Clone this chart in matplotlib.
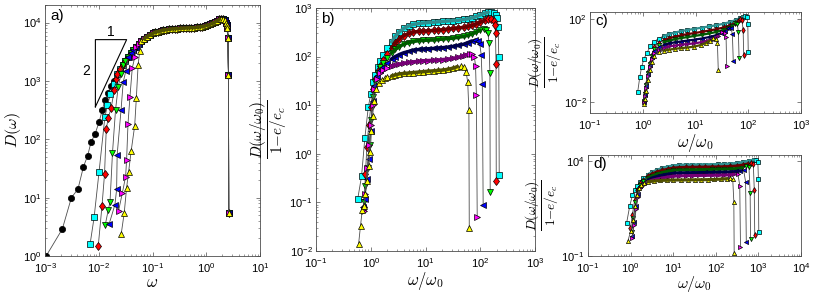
import numpy as np
import matplotlib
matplotlib.use('Agg')
import matplotlib.pyplot as plt
from matplotlib.ticker import LogLocator, NullFormatter

plt.rcParams['font.family'] = 'Liberation Sans'
plt.rcParams['mathtext.fontset'] = 'cm'

# === data : panel a, D(omega) ===
a_black_x = [0.00105, 0.0021, 0.0031, 0.0041, 0.0052, 0.0062, 0.0072, 0.0085, 0.0101, 0.0116, 0.013, 0.0147, 0.0167, 0.019]
a_black_y = [1.0, 2.9, 10, 14, 34, 52, 90, 122, 195, 315, 470, 620, 810, 1000]
a_cyan_x = [0.0069, 0.0082, 0.0101, 0.013, 0.0145, 0.0165, 0.019]
a_cyan_y = [1.6, 4.6, 27, 240, 380, 600, 900]
a_red_x = [0.0098, 0.0115, 0.0128, 0.0138, 0.015, 0.017, 0.0195, 0.021]
a_red_y = [1.5, 7.3, 25, 150, 230, 346, 700, 1100]
a_green_x = [0.0132, 0.0150, 0.0162, 0.018, 0.0205, 0.023, 0.026]
a_green_y = [3.4, 6.1, 8.4, 58, 315, 800, 1300]
a_blue_x = [0.0157, 0.0200, 0.0215, 0.022, 0.026, 0.0285, 0.032]
a_blue_y = [3.6, 7.6, 13.8, 54, 320, 950, 1500]
a_magenta_x = [0.0234, 0.0275, 0.0316, 0.033, 0.035, 0.038, 0.042, 0.047]
a_magenta_y = [6.0, 12, 23, 45, 183, 525, 1650, 2600]
a_yellow_x = [0.0262, 0.0298, 0.033, 0.036, 0.04, 0.0466, 0.05, 0.054, 0.058]
a_yellow_y = [2.4, 5.5, 14.9, 28, 62, 170, 500, 1900, 3300]
# common curve that every series of panel a joins
a_env_x = [0.022, 0.025, 0.028, 0.031, 0.035, 0.039, 0.044, 0.049, 0.055, 0.062, 0.07, 0.078,
           0.088, 0.1, 0.112, 0.126, 0.142, 0.16, 0.18, 0.2, 0.23, 0.26, 0.29, 0.33, 0.37, 0.42,
           0.47, 0.53, 0.6, 0.67, 0.75, 0.84, 0.94, 1.05, 1.17, 1.3, 1.45, 1.6, 1.75, 1.9, 2.05,
           2.2, 2.32, 2.42, 2.48, 2.53, 2.59, 2.62]
a_env_y = [1300, 1600, 1900, 2200, 2600, 3000, 3400, 3800, 4300, 4800, 5300, 5700, 6100, 6500,
           6800, 7000, 7200, 7400, 7550, 7650, 7750, 7850, 7900, 7950, 8000, 8050, 8100, 8150,
           8200, 8300, 8400, 8550, 8750, 9000, 9300, 9700, 10200, 10800, 11300, 11700, 11600,
           11000, 10000, 9000, 8200, 5400, 1270, 5.5]

# === data : panel b ===
b_cyan_x = [0.58, 0.68, 0.78, 0.9, 1.0, 1.1, 1.2, 1.35, 1.5, 1.7, 2.0, 2.4, 2.8, 3.3, 4, 5, 6, 7.5, 9, 11,
            14, 17, 21, 26, 32, 40, 50, 60, 72, 85, 100, 120, 140, 160, 180, 195, 205, 212, 218, 222]
b_cyan_y = [0.12, 0.35, 2.1, 9, 17, 30, 42, 60, 80, 110, 150, 200, 260, 320, 380, 430, 460, 480, 490, 500,
            510, 520, 530, 540, 550, 560, 580, 600, 630, 670, 720, 780, 820, 830, 800, 720, 620, 400, 100, 0.37]
b_red_x = [0.75, 0.8, 0.85, 0.92, 1.0, 1.1, 1.2, 1.35, 1.5, 1.7, 2.0, 2.4, 2.8, 3.3, 4, 5, 6, 7.5, 9, 11,
           14, 17, 21, 26, 32, 40, 50, 60, 72, 85, 100, 120, 140, 160, 175, 185, 190, 194, 196]
b_red_y = [0.08, 0.38, 1.4, 4, 9, 22, 35, 50, 65, 85, 115, 150, 190, 230, 270, 300, 320, 330, 335, 340,
           345, 350, 360, 370, 380, 390, 400, 420, 440, 470, 510, 560, 590, 590, 540, 450, 300, 70, 0.27]
b_green_x = [0.75, 0.8, 0.88, 0.95, 1.02, 1.1, 1.2, 1.35, 1.5, 1.7, 2.0, 2.4, 2.8, 3.3, 4, 5, 6, 7.5, 9, 11,
             14, 17, 21, 26, 32, 40, 50, 60, 72, 85, 100, 115, 128, 138, 145, 150, 152]
b_green_y = [0.1, 0.22, 0.5, 1.5, 5, 15, 30, 45, 60, 75, 95, 120, 140, 160, 180, 195, 205, 212, 215, 218,
             220, 225, 230, 235, 240, 250, 260, 275, 295, 320, 350, 365, 350, 300, 190, 45, 0.16]
b_blue_x = [0.72, 0.78, 0.85, 0.92, 1.0, 1.08, 1.15, 1.3, 1.5, 1.7, 2.0, 2.4, 2.8, 3.3, 4, 5, 6, 7.5, 9, 11,
            14, 17, 21, 26, 32, 40, 50, 60, 70, 80, 90, 98, 104, 109, 113]
b_blue_y = [0.08, 0.12, 0.3, 0.8, 3, 12, 25, 40, 52, 62, 75, 90, 100, 110, 120, 128, 135, 140, 143, 145,
            147, 150, 153, 157, 162, 170, 180, 195, 210, 215, 205, 180, 110, 27, 0.09]
b_magenta_x = [0.75, 0.8, 0.86, 0.93, 1.0, 1.08, 1.15, 1.3, 1.5, 1.7, 2.0, 2.4, 2.8, 3.3, 4, 5, 6, 7.5, 9, 11,
               14, 17, 21, 26, 32, 40, 48, 56, 64, 72, 78, 82, 85, 88]
b_magenta_y = [0.065, 0.15, 0.5, 1.5, 4, 10, 22, 35, 45, 52, 58, 63, 67, 70, 73, 76, 78, 80, 82, 83,
               84, 85, 87, 89, 92, 97, 103, 110, 115, 112, 100, 65, 16, 0.05]
b_yellow_x = [0.6, 0.65, 0.7, 0.75, 0.8, 0.85, 0.92, 0.98, 1.03, 1.08, 1.15, 1.25, 1.4, 1.6, 1.8, 2.0, 2.4, 2.8,
              3.3, 4, 5, 6, 7.5, 9, 11, 14, 17, 21, 26, 32, 38, 44, 50, 55, 59, 62, 63]
b_yellow_y = [0.014, 0.033, 0.07, 0.085, 0.15, 0.28, 0.55, 1.1, 3, 6, 12, 22, 29, 33, 36, 38, 40, 42,
              44, 45, 46, 47, 48, 49, 50, 51, 52, 53, 55, 58, 62, 64, 60, 49, 30, 8, 0.03]

# === data : panel c ===
c_cyan_x = [0.8, 0.88, 0.95, 1.05, 1.2, 1.4, 1.6, 2.0, 2.5, 3.2, 4, 5.2, 7, 9.5, 13, 18, 25, 34, 45, 58, 70, 80, 88, 94, 98, 100]
c_cyan_y = [0.03, 0.17, 0.5, 1.2, 2.5, 5, 8, 12, 16, 20, 23, 27, 31, 35, 40, 46, 53, 62, 75, 95, 118, 135, 145, 130, 61, 2.7]
c_red_x = [1.05, 1.1, 1.15, 1.25, 1.35, 1.5, 1.65, 2.0, 2.5, 3.2, 4, 5.2, 7, 9.5, 13, 18, 25, 34, 45, 55, 64, 71, 76, 80, 82]
c_red_y = [0.012, 0.03, 0.08, 0.3, 0.8, 2, 4.5, 7.5, 10, 12.5, 14.5, 17, 19.5, 22, 25, 29, 34, 41, 52, 65, 85, 100, 90, 32, 1.9]
c_green_x = [1.05, 1.1, 1.15, 1.25, 1.35, 1.5, 1.65, 2.0, 2.5, 3.2, 4, 5.2, 7, 9.5, 13, 18, 25, 33, 42, 50, 57, 62, 65, 67]
c_green_y = [0.011, 0.025, 0.07, 0.25, 0.7, 1.8, 3.8, 6, 7.8, 9.5, 11, 12.5, 14, 16, 18, 21, 25, 30, 38, 50, 65, 60, 24, 1.3]
c_blue_x = [1.05, 1.1, 1.15, 1.25, 1.35, 1.5, 1.65, 2.0, 2.5, 3.2, 4, 5.2, 7, 9.5, 13, 18, 24, 30, 36, 42, 47, 50, 52]
c_blue_y = [0.01, 0.022, 0.06, 0.22, 0.6, 1.5, 3, 4.8, 6, 7, 7.8, 8.6, 9.5, 10.5, 12, 14, 17, 21, 27, 38, 38, 20, 0.97]
c_magenta_x = [1.05, 1.1, 1.15, 1.25, 1.35, 1.5, 1.65, 2.0, 2.5, 3.2, 4, 5.2, 7, 9.5, 13, 17, 22, 27, 32, 36, 38, 39]
c_magenta_y = [0.01, 0.02, 0.05, 0.18, 0.5, 1.2, 2.3, 3.5, 4.3, 5, 5.5, 6, 6.5, 7, 8, 9.5, 12, 16, 24, 22, 14, 0.56]
c_yellow_x = [1.05, 1.1, 1.15, 1.25, 1.35, 1.5, 1.65, 2.0, 2.5, 3.2, 4, 5.2, 7, 9.5, 12.5, 15.5, 18.5, 21.5, 24, 26, 27]
c_yellow_y = [0.008, 0.015, 0.035, 0.12, 0.35, 0.9, 1.7, 2.6, 3.1, 3.5, 3.8, 4.1, 4.4, 4.9, 5.8, 7.2, 9.5, 12.5, 11, 7.7, 0.38]

# === data : panel d ===
d_cyan_x = [0.81, 0.95, 1.1, 1.25, 1.45, 1.7, 2.0, 2.5, 3.2, 4.2, 5.5, 7.5, 10, 14, 20, 28, 40, 56, 80, 110,
            155, 220, 310, 430, 600, 780, 900, 970, 1000, 1020]
d_cyan_y = [5.7, 40, 150, 300, 500, 800, 1200, 1800, 2500, 3200, 4000, 4800, 5400, 5800, 6000, 6100, 6150, 6200,
            6250, 6350, 6500, 6800, 7300, 8200, 9500, 11000, 11500, 9000, 1080, 1.9]
d_red_x = [0.99, 1.1, 1.25, 1.45, 1.7, 2.0, 2.5, 3.2, 4.2, 5.5, 7.5, 10, 14, 20, 28, 40, 56, 80, 110, 155,
           220, 310, 430, 560, 680, 760, 800, 820]
d_red_y = [2.9, 15, 90, 300, 650, 1000, 1500, 2000, 2600, 3100, 3600, 4100, 4400, 4500, 4550, 4600, 4650, 4700,
           4750, 4850, 5000, 5300, 5900, 6800, 7700, 6500, 300, 1.27]
d_green_x = [1.05, 1.15, 1.3, 1.5, 1.7, 2.0, 2.5, 3.2, 4.2, 5.5, 7.5, 10, 14, 20, 28, 40, 56, 80, 110, 155,
             220, 310, 420, 520, 600, 640, 655]
d_green_y = [1.8, 10, 70, 250, 550, 850, 1200, 1600, 2000, 2400, 2800, 3100, 3250, 3300, 3350, 3400, 3450, 3500,
             3550, 3600, 3700, 3900, 4300, 5000, 4800, 200, 0.75]
d_blue_x = [1.1, 1.2, 1.35, 1.5, 1.7, 2.0, 2.5, 3.2, 4.2, 5.5, 7.5, 10, 14, 20, 28, 40, 56, 80, 110, 155,
            220, 300, 380, 450, 500, 520]
d_blue_y = [1.1, 6, 40, 180, 450, 700, 950, 1250, 1500, 1750, 2000, 2200, 2300, 2350, 2380, 2400, 2420, 2450,
            2480, 2520, 2600, 2750, 3000, 3200, 800, 0.57]
d_magenta_x = [1.1, 1.2, 1.35, 1.5, 1.7, 2.0, 2.5, 3.2, 4.2, 5.5, 7.5, 10, 14, 20, 28, 40, 56, 80, 110, 155,
               210, 270, 330, 365, 380]
d_magenta_y = [0.9, 4, 30, 130, 350, 550, 750, 950, 1100, 1250, 1400, 1550, 1600, 1650, 1670, 1690, 1700, 1720,
               1740, 1770, 1820, 1950, 2100, 500, 0.29]
d_yellow_x = [0.87, 1.0, 1.15, 1.3, 1.45, 1.6, 1.8, 2.1, 2.6, 3.5, 5, 7, 10, 15, 22, 32, 45, 65, 90, 130,
              180, 220, 250, 265, 270]
d_yellow_y = [0.64, 2, 8, 40, 150, 350, 550, 700, 800, 870, 920, 950, 970, 980, 990, 1000, 1010, 1020,
              1040, 1080, 1150, 1200, 1050, 70, 0.14]

# marker, face colour, colour of the dense band (MATLAB like)
styles = {'black': ('o', 'k', 'k'), 'cyan': ('s', '#00ffff', '#2f8f8f'),
          'red': ('d', '#ff0000', '#6a0000'), 'green': ('v', '#00ff00', '#005a00'),
          'blue': ('<', '#0000ff', '#00004a'), 'magenta': ('>', '#ff00ff', '#750075'),
          'yellow': ('^', '#ffff00', '#505000')}
order = ['cyan', 'red', 'green', 'blue', 'magenta', 'yellow']


def trace(ax, x, y, name, ms, lo, lw_bande):
    m, c, fonce = styles[name]
    x = np.asarray(x, dtype=float)
    y = np.asarray(y, dtype=float)
    ax.plot(x, y, '-', color='0.3', lw=0.6, marker=m, ms=ms, mfc=c, mec='k', mew=0.5)
    # plateau : points tres serres dans l'original -> trait sombre par dessus
    k = np.argmax(y)
    sel = (x >= lo) & (np.arange(len(x)) < k)
    ax.plot(x[sel], y[sel], '-', color=fonce, lw=lw_bande, solid_capstyle='round')


def habille(ax, xlim, ylim, xt, yt, lettre):
    ax.set_xscale('log')
    ax.set_yscale('log')
    ax.set_xlim(xlim)
    ax.set_ylim(ylim)
    ax.set_xticks(xt)
    ax.set_yticks(yt)
    ax.xaxis.set_minor_locator(LogLocator(base=10, subs=np.arange(2, 10)))
    ax.yaxis.set_minor_locator(LogLocator(base=10, subs=np.arange(2, 10)))
    ax.xaxis.set_minor_formatter(NullFormatter())
    ax.yaxis.set_minor_formatter(NullFormatter())
    ax.tick_params(which='both', direction='in', top=True, right=True, labelsize=8, color='0.3')
    ax.tick_params(axis='x', pad=4)
    ax.tick_params(axis='y', pad=2.5)
    ax.tick_params(which='major', length=3, width=0.5)
    ax.tick_params(which='minor', length=1.5, width=0.4)
    for s in ax.spines.values():
        s.set_linewidth(0.6)
        s.set_color('0.3')
    ax.text(0.025, 0.985, lettre, transform=ax.transAxes, ha='left', va='top', fontsize=11)


fig = plt.figure(figsize=(8.14, 2.94), dpi=100)


def axes_px(l, t, r, b):
    return fig.add_axes([l / 814, 1 - b / 294, (r - l) / 814, (b - t) / 294])


frac = r'$\dfrac{D(\omega/\omega_0)}{1\mathrm{-}e/e_c}$'

# === a) ===
ax = axes_px(45, 5, 260, 256)
env_x = np.array(a_env_x)
env_y = np.array(a_env_y)
a_series = {'black': (a_black_x, a_black_y), 'cyan': (a_cyan_x, a_cyan_y), 'red': (a_red_x, a_red_y),
            'green': (a_green_x, a_green_y), 'blue': (a_blue_x, a_blue_y),
            'magenta': (a_magenta_x, a_magenta_y), 'yellow': (a_yellow_x, a_yellow_y)}
for nom in ['black'] + order:
    x, y = a_series[nom]
    garde = env_x > x[-1]
    trace(ax, np.concatenate([x, env_x[garde]]), np.concatenate([y, env_y[garde]]), nom, 4.5, 0.07, 2.5)
# triangle de pente 2
ax.plot([0.00866, 0.00866, 0.033, 0.00866], [360, 5100, 5100, 360], color='k', lw=0.8)
ax.text(0.0166, 5300, '1', fontsize=10, ha='center', va='bottom')
ax.text(0.0068, 1500, '2', fontsize=10, ha='right', va='center')
habille(ax, (1e-3, 1e1), (1, 2e4), [1e-3, 1e-2, 1e-1, 1e0, 1e1], [1e0, 1e1, 1e2, 1e3, 1e4], 'a)')
ax.set_xlabel(r'$\omega$', fontsize=12, labelpad=0)
ax.set_ylabel(r'$D(\omega)$', fontsize=11.5, labelpad=0)

# === b) ===
ax = axes_px(316, 8, 535, 251)
b_series = {'cyan': (b_cyan_x, b_cyan_y), 'red': (b_red_x, b_red_y), 'green': (b_green_x, b_green_y),
            'blue': (b_blue_x, b_blue_y), 'magenta': (b_magenta_x, b_magenta_y),
            'yellow': (b_yellow_x, b_yellow_y)}
for nom in order:
    trace(ax, *b_series[nom], nom, 4.5, 2.2, 2.5)
habille(ax, (1e-1, 1e3), (1e-2, 1e3), [1e-1, 1e0, 1e1, 1e2, 1e3], [1e-2, 1e-1, 1e0, 1e1, 1e2, 1e3], 'b)')
ax.set_xlabel(r'$\omega/\omega_0$', fontsize=12, labelpad=0)
ax.set_ylabel(frac, fontsize=11, labelpad=0)

# === c) ===
ax = axes_px(590, 12, 801, 113)
c_series = {'cyan': (c_cyan_x, c_cyan_y), 'red': (c_red_x, c_red_y), 'green': (c_green_x, c_green_y),
            'blue': (c_blue_x, c_blue_y), 'magenta': (c_magenta_x, c_magenta_y),
            'yellow': (c_yellow_x, c_yellow_y)}
for nom in order:
    trace(ax, *c_series[nom], nom, 3, 2.2, 1.6)
habille(ax, (1e-1, 1e3), (3e-3, 2.3e2), [1e-1, 1e0, 1e1, 1e2, 1e3], [1e-2, 1e2], 'c)')
ax.set_xlabel(r'$\omega/\omega_0$', fontsize=12, labelpad=0)
ax.set_ylabel(frac, fontsize=9.5, labelpad=0)

# === d) ===
ax = axes_px(588, 155, 801, 256)
d_series = {'cyan': (d_cyan_x, d_cyan_y), 'red': (d_red_x, d_red_y), 'green': (d_green_x, d_green_y),
            'blue': (d_blue_x, d_blue_y), 'magenta': (d_magenta_x, d_magenta_y),
            'yellow': (d_yellow_x, d_yellow_y)}
for nom in order:
    trace(ax, *d_series[nom], nom, 3, 2.2, 2.2)
habille(ax, (1e-1, 1e4), (1e-1, 2e4), [1e-1, 1e0, 1e1, 1e2, 1e3, 1e4], [1e-1, 1e4], 'd)')
ax.set_xlabel(r'$\omega/\omega_0$', fontsize=11.5, labelpad=-1)
ax.set_ylabel(frac, fontsize=9.5, labelpad=0)

fig.savefig('out.png', dpi=100)
